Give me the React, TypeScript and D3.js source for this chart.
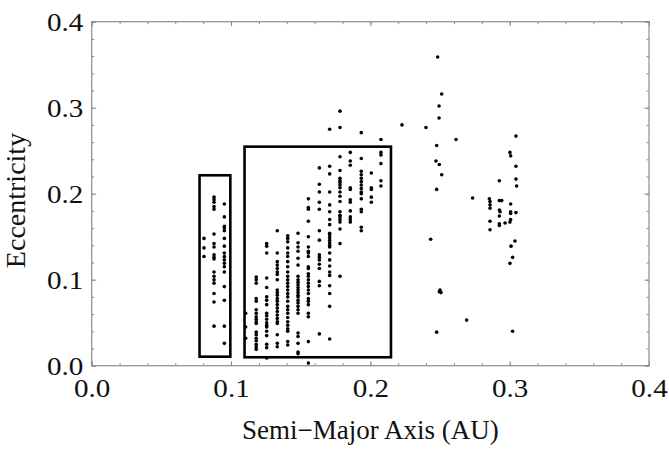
import * as d3 from 'd3'
import { useEffect, useRef } from 'react'

// columns of planets inside the boxes: [semi-major axis, eccentricities...]
const leftBoxColumns: [number, number[]][] = [
  [0.0806, [0.148, 0.137, 0.127]],
  [0.0878, [0.196, 0.193, 0.190, 0.185, 0.182, 0.153, 0.142, 0.138, 0.129, 0.126, 0.124, 0.109, 0.104, 0.100, 0.096, 0.084, 0.074, 0.046]],
  [0.0952, [0.188, 0.173, 0.162, 0.160, 0.157, 0.148, 0.139, 0.131, 0.127, 0.123, 0.119, 0.115, 0.109, 0.092, 0.076, 0.046, 0.026]],
]

const rightBoxColumns: [number, number[]][] = [
  [0.1105, [0.061, 0.045, 0.032]],
  [0.1181, [0.103, 0.100, 0.096, 0.078, 0.075, 0.065, 0.061, 0.057, 0.054, 0.051, 0.049, 0.039, 0.036, 0.032, 0.029, 0.025, 0.022, 0.019]],
  [0.1256, [0.142, 0.139, 0.131, 0.102, 0.091, 0.080, 0.076, 0.071, 0.061, 0.058, 0.054, 0.050, 0.047, 0.045, 0.040, 0.035, 0.025, 0.021, 0.009]],
  [0.1332, [0.157, 0.131, 0.121, 0.117, 0.113, 0.109, 0.106, 0.100, 0.088, 0.085, 0.082, 0.078, 0.075, 0.071, 0.067, 0.063, 0.059, 0.055, 0.051, 0.049, 0.036, 0.026, 0.022]],
  [0.1407, [0.151, 0.148, 0.144, 0.137, 0.131, 0.127, 0.121, 0.115, 0.109, 0.104, 0.100, 0.096, 0.092, 0.088, 0.084, 0.080, 0.075, 0.069, 0.065, 0.061, 0.056, 0.051, 0.047, 0.043, 0.040, 0.028, 0.024]],
  [0.1481, [0.154, 0.143, 0.138, 0.133, 0.125, 0.117, 0.104, 0.100, 0.097, 0.094, 0.091, 0.088, 0.085, 0.082, 0.080, 0.076, 0.073, 0.069, 0.065, 0.061, 0.038, 0.034, 0.026, 0.016, 0.014]],
  [0.1555, [0.194, 0.184, 0.182, 0.168, 0.150, 0.138, 0.133, 0.131, 0.127, 0.115, 0.113, 0.107, 0.104, 0.100, 0.096, 0.092, 0.088, 0.084, 0.078, 0.075, 0.071, 0.061, 0.057, 0.028, 0.003]],
  [0.1634, [0.230, 0.211, 0.202, 0.190, 0.182, 0.157, 0.146, 0.129, 0.126, 0.123, 0.118, 0.113, 0.098, 0.093, 0.037]],
  [0.1708, [0.275, 0.232, 0.223, 0.202, 0.187, 0.179, 0.170, 0.164, 0.154, 0.152, 0.149, 0.146, 0.143, 0.140, 0.138, 0.131, 0.123, 0.116, 0.109, 0.105, 0.093, 0.084, 0.069, 0.031]],
  [0.1782, [0.296, 0.277, 0.243, 0.227, 0.218, 0.215, 0.213, 0.210, 0.207, 0.202, 0.197, 0.191, 0.179, 0.175, 0.173, 0.170, 0.167, 0.159, 0.142, 0.104]],
  [0.1856, [0.248, 0.238, 0.233, 0.207, 0.205, 0.193, 0.190, 0.180, 0.173, 0.170, 0.167]],
  [0.1935, [0.271, 0.241, 0.226, 0.222, 0.218, 0.214, 0.210, 0.206, 0.202, 0.200, 0.194, 0.182, 0.179, 0.161, 0.157]],
  [0.2007, [0.224, 0.207, 0.205, 0.196, 0.190]],
  [0.2076, [0.263, 0.248, 0.245, 0.235, 0.215, 0.209]],
  [0.2227, [0.280]],
  [0.2399, [0.277]],
]

// scattered planets beyond 0.24 AU
const outerPoints: [number, number][] = [
  [0.2433, 0.147], [0.2483, 0.359], [0.2512, 0.316], [0.2493, 0.302], [0.2493, 0.288],
  [0.2476, 0.256], [0.2471, 0.238], [0.2495, 0.234], [0.2512, 0.222], [0.2476, 0.205],
  [0.2500, 0.088], [0.2507, 0.085], [0.2495, 0.086], [0.2476, 0.039],
  [0.2615, 0.263], [0.2734, 0.195], [0.2691, 0.053],
  [0.3045, 0.267], [0.3002, 0.248], [0.3007, 0.244], [0.3045, 0.232], [0.2926, 0.215],
  [0.3045, 0.217], [0.3050, 0.209], [0.2854, 0.194], [0.2859, 0.191], [0.2926, 0.192],
  [0.2943, 0.192], [0.2859, 0.187], [0.2859, 0.183], [0.3007, 0.188], [0.2926, 0.181],
  [0.2931, 0.179], [0.3007, 0.179], [0.3007, 0.177], [0.3045, 0.178], [0.2926, 0.174],
  [0.2859, 0.168], [0.2926, 0.165], [0.2926, 0.163], [0.2967, 0.166], [0.3007, 0.170],
  [0.3002, 0.167], [0.2859, 0.158], [0.3038, 0.145], [0.3010, 0.139], [0.3021, 0.126],
  [0.3002, 0.119], [0.3021, 0.040],
]

// highlight boxes: [a0, a1, e0, e1]
const boxes: [number, number, number, number][] = [
  [0.0774, 0.0995, 0.0105, 0.2214],
  [0.1097, 0.2148, 0.0098, 0.2547],
]

const majorTicks = [0, 0.1, 0.2, 0.3, 0.4]
const minorTicks = d3.range(0, 0.4001, 0.02)

const W = 669
const H = 451
const margin = { left: 91.7, right: 20, top: 21.7, bottom: 85.3 }
const serif = '"Liberation Serif", "Times New Roman", serif'
const stretch = 1.12 // tick labels are a bit wide in the original

export default function App() {
  const ref = useRef<SVGSVGElement>(null)

  useEffect(() => {
    const svg = d3.select(ref.current)
    svg.selectAll('*').remove()

    const x = d3.scaleLinear().domain([0, 0.4]).range([margin.left, W - margin.right])
    const y = d3.scaleLinear().domain([0, 0.4]).range([H - margin.bottom, margin.top])
    const [x0, x1] = x.range()
    const [y0, y1] = y.range()

    const pts: [number, number][] = []
    for (const [a, es] of [...leftBoxColumns, ...rightBoxColumns]) es.forEach(e => pts.push([a, e]))
    outerPoints.forEach(p => pts.push(p))

    const fmt = (d: d3.NumberValue) => d3.format('.1f')(d as number)
    const grey = '#8a8a8a'

    // ticks on all four sides pointing in
    const addAxis = (axis: d3.Axis<d3.NumberValue>, tx: number, ty: number, labels: boolean) => {
      const g = svg.append('g').attr('transform', `translate(${tx},${ty})`).call(axis)
      g.select('.domain').remove()
      g.selectAll('line').attr('stroke', grey)
      if (labels) {
        g.selectAll('text').attr('font-family', serif).attr('font-size', 26).attr('fill', '#111')
          .attr('transform', `scale(${stretch},1)`)
      } else {
        g.selectAll('text').remove()
      }
      return g
    }

    addAxis(d3.axisBottom(x).tickValues(minorTicks).tickSize(-2.5).tickFormat(() => ''), 0, y0, false)
    addAxis(d3.axisTop(x).tickValues(minorTicks).tickSize(-2.5).tickFormat(() => ''), 0, y1, false)
    addAxis(d3.axisLeft(y).tickValues(minorTicks).tickSize(-2.5).tickFormat(() => ''), x0, 0, false)
    addAxis(d3.axisRight(y).tickValues(minorTicks).tickSize(-2.5).tickFormat(() => ''), x1, 0, false)
    addAxis(d3.axisTop(x).tickValues(majorTicks).tickSize(-4.5), 0, y1, false)
    addAxis(d3.axisRight(y).tickValues(majorTicks).tickSize(-4.5), x1, 0, false)

    const bottom = addAxis(d3.axisBottom(x).tickValues(majorTicks).tickSize(-4.5).tickPadding(0).tickFormat(fmt), 0, y0, true)
    bottom.selectAll('text').attr('dy', null).attr('y', 31)
    const left = addAxis(d3.axisLeft(y).tickValues(majorTicks).tickSize(-4.5).tickPadding(0).tickFormat(fmt), x0, 0, true)
    left.selectAll('text').attr('dy', null).attr('x', -8.4 / stretch).attr('y', 9)

    // frame
    svg.append('rect')
      .attr('x', x0).attr('y', y1)
      .attr('width', x1 - x0).attr('height', y0 - y1)
      .attr('fill', 'none').attr('stroke', grey).attr('stroke-width', 1.2)

    // points
    svg.append('g')
      .selectAll('circle')
      .data(pts)
      .join('circle')
      .attr('cx', d => x(d[0]))
      .attr('cy', d => y(d[1]))
      .attr('r', 1.8)
      .attr('fill', '#000')

    // boxes
    svg.append('g')
      .selectAll('rect')
      .data(boxes)
      .join('rect')
      .attr('x', d => x(d[0]))
      .attr('y', d => y(d[3]))
      .attr('width', d => x(d[1]) - x(d[0]))
      .attr('height', d => y(d[2]) - y(d[3]))
      .attr('fill', 'none')
      .attr('stroke', '#000')
      .attr('stroke-width', 2.6)

    // axis titles
    svg.append('text')
      .attr('x', (x0 + x1) / 2).attr('y', 439)
      .attr('text-anchor', 'middle')
      .attr('font-family', serif).attr('font-size', 27).attr('fill', '#111')
      .text('Semi\u2212Major Axis (AU)')

    svg.append('text')
      .attr('transform', 'translate(25,200.5) rotate(-90)')
      .attr('text-anchor', 'middle')
      .attr('font-family', serif).attr('font-size', 28).attr('fill', '#111')
      .text('Eccentricity')
  }, [])

  return (
    <svg ref={ref} width={W} height={H}
      style={{ position: 'absolute', left: 0, top: 0, background: '#fff' }} />
  )
}
